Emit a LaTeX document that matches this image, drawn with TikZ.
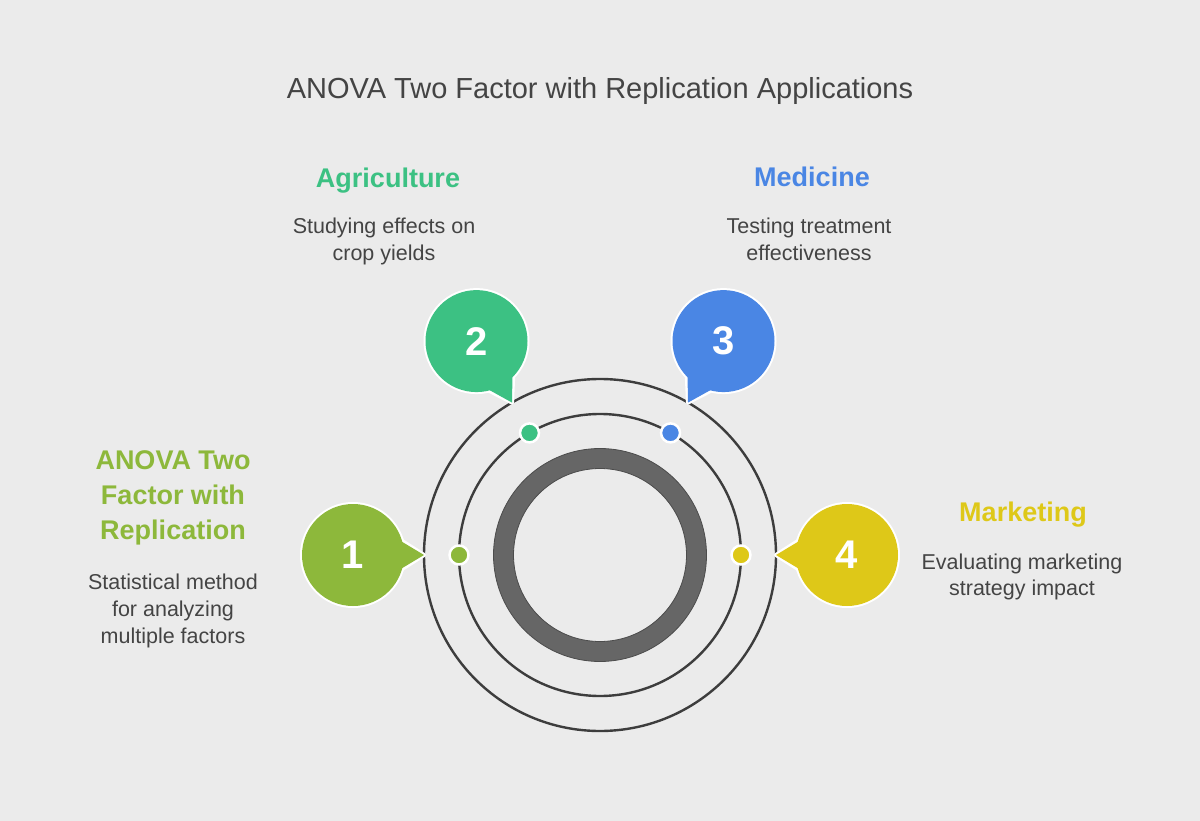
\documentclass[tikz,border=0pt]{standalone}
\usepackage{fontspec}
\setmainfont{Liberation Sans}
\usetikzlibrary{calc}
\definecolor{bg}{HTML}{EBEBEB}
\definecolor{cone}{HTML}{8DB83B}
\definecolor{ctwo}{HTML}{3CC183}
\definecolor{cthree}{HTML}{4A86E4}
\definecolor{cfour}{HTML}{DEC818}
\definecolor{ctext}{HTML}{444444}
\definecolor{cline}{HTML}{3D3D3D}
\definecolor{cring}{HTML}{666666}
\begin{document}
\begin{tikzpicture}[x=1pt,y=-1pt,
  title/.style={font=\fontsize{29}{34}\selectfont, text=ctext, inner sep=0pt},
  head/.style={font=\bfseries\fontsize{27}{35}\selectfont, align=center, inner sep=0pt},
  desc/.style={font=\fontsize{21.5}{26.8}\selectfont, text=ctext, align=center, inner sep=0pt},
  num/.style={font=\bfseries\fontsize{40}{40}\selectfont, text=white, inner sep=0pt},
  orbit/.style={draw=cline, line width=2.4pt},
  dotmark/.style={circle, draw=white, line width=2.5pt, minimum size=19pt, inner sep=0pt},
  bubedge/.style={draw=white, line width=4pt, line join=round},
]
\useasboundingbox[fill=bg] (0,0) rectangle (1200,821);

\node[title] (title) at (600,91) {ANOVA Two Factor with Replication Applications};

% centre
\coordinate (c) at (600,555);
\draw[orbit] (c) circle[radius=176];
\draw[orbit] (c) circle[radius=141];
\draw[cring, line width=20pt] (c) circle[radius=96.5];
\draw[black!70, line width=0.8pt] (c) circle[radius=106.5];
\draw[black!70, line width=0.8pt] (c) circle[radius=86.5];

% dots on middle orbit
\node[dotmark, fill=cone]   (d1) at ($(c)+(180:141)$) {};
\node[dotmark, fill=ctwo]   (d2) at ($(c)+(240:141)$) {};
\node[dotmark, fill=cthree] (d3) at ($(c)+(300:141)$) {};
\node[dotmark, fill=cfour]  (d4) at ($(c)+(0:141)$) {};

% bubbles: angle, colour, number
\foreach \a/\col/\n in {180/cone/1, 240/ctwo/2, 300/cthree/3, 0/cfour/4}{
  \coordinate (tip\n) at ($(c)+(\a:176)$);
  \coordinate (bc\n) at ($(c)+(\a:247)$);
  \pgfmathsetmacro{\back}{\a+180}
  \draw[bubedge] (bc\n) circle[radius=51];
  \draw[bubedge] ($(bc\n)+(\back-16:51)$) -- (tip\n) -- ($(bc\n)+(\back+16:51)$) -- cycle;
  \fill[\col] (bc\n) circle[radius=51];
  \fill[\col] ($(bc\n)+(\back-16:50)$) -- (tip\n) -- ($(bc\n)+(\back+16:50)$) -- cycle;
  \node[num] (n\n) at (bc\n) {\n};
}

% texts
\node[head, text=cone] (h1) at (173,498) {ANOVA Two\\Factor with\\Replication};
\node[desc] (t1) at (173,611) {Statistical method\\for analyzing\\multiple factors};

\node[head, text=ctwo] (h2) at (388,180.5) {Agriculture};
\node[desc] (t2) at (384,241.5) {Studying effects on\\crop yields};

\node[head, text=cthree] (h3) at (812,177) {Medicine};
\node[desc] (t3) at (809,239.5) {Testing treatment\\effectiveness};

\node[head, text=cfour] (h4) at (1023,515) {Marketing};
\node[desc] (t4) at (1022,577) {Evaluating marketing\\strategy impact};
\end{tikzpicture}
\end{document}
